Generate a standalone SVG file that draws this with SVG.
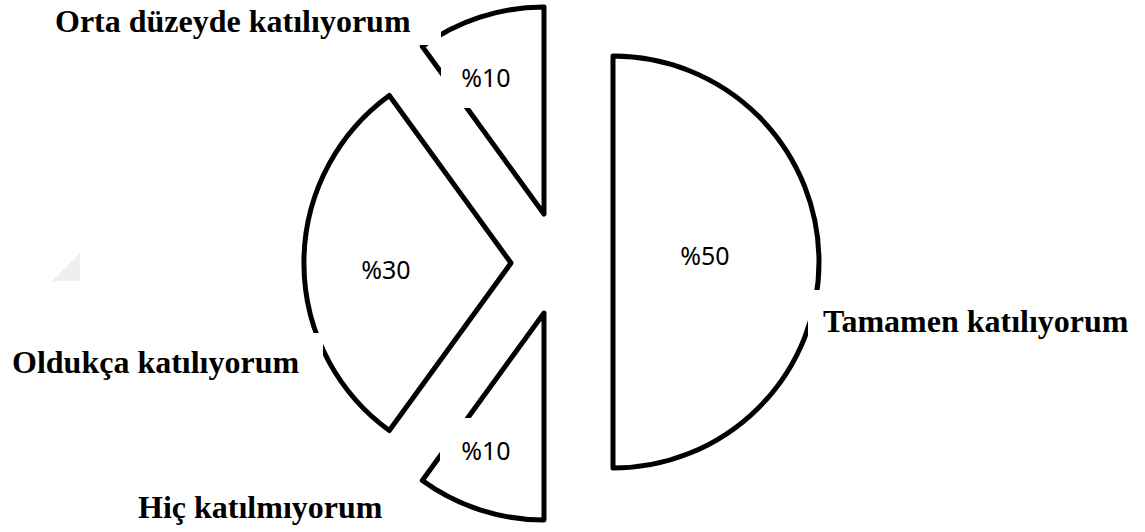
<svg xmlns="http://www.w3.org/2000/svg" width="1145" height="532" viewBox="0 0 1145 532">
  <style>
    .slice { fill: #ffffff; stroke: #000000; stroke-width: 5; stroke-linejoin: round; }
    .mask { fill: #ffffff; stroke: none; }
    .cat { font-family: "Liberation Serif", "Times New Roman", serif; font-weight: bold; font-size: 32px; fill: #000000; }
    .pct { font-family: "Noto Sans", "Open Sans", sans-serif; font-size: 25px; fill: #000000; text-anchor: middle; }
  </style>
  <rect width="1145" height="532" fill="#ffffff"/>
  <polygon points="52,281 80,253 80,281" fill="#efefef"/>

  <g id="slice-tamamen">
    <path class="slice" d="M613,56 A206,206 0 0 1 613,468 Z"/>
  </g>
  <g id="slice-orta">
    <path class="slice" d="M544,214 L544,7 A207,207 0 0 0 422.3,46.5 Z"/>
  </g>
  <g id="slice-oldukca">
    <path class="slice" d="M511,263 L389.3,95.5 A207,207 0 0 0 389.3,430.5 Z"/>
  </g>
  <g id="slice-hic">
    <path class="slice" d="M544,313 L422.3,480.5 A207,207 0 0 0 544,520 Z"/>
  </g>

  <g id="label-tamamen">
    <rect class="mask" x="808" y="290" width="337" height="58"/>
    <text class="cat" x="823" y="332">Tamamen katılıyorum</text>
    <text class="pct" x="705" y="265">%50</text>
  </g>
  <g id="label-orta">
    <rect class="mask" x="0" y="0" width="441" height="45"/>
    <text class="cat" x="55" y="32">Orta düzeyde katılıyorum</text>
    <rect class="mask" x="441" y="48" width="90" height="60"/>
    <text class="pct" x="486" y="87">%10</text>
  </g>
  <g id="label-oldukca">
    <rect class="mask" x="0" y="333" width="323" height="57"/>
    <text class="cat" x="12" y="373">Oldukça katılıyorum</text>
    <text class="pct" x="386" y="279">%30</text>
  </g>
  <g id="label-hic">
    <rect class="mask" x="440" y="418" width="92" height="60"/>
    <text class="pct" x="486" y="460">%10</text>
    <text class="cat" x="138" y="518">Hiç katılmıyorum</text>
  </g>
</svg>
